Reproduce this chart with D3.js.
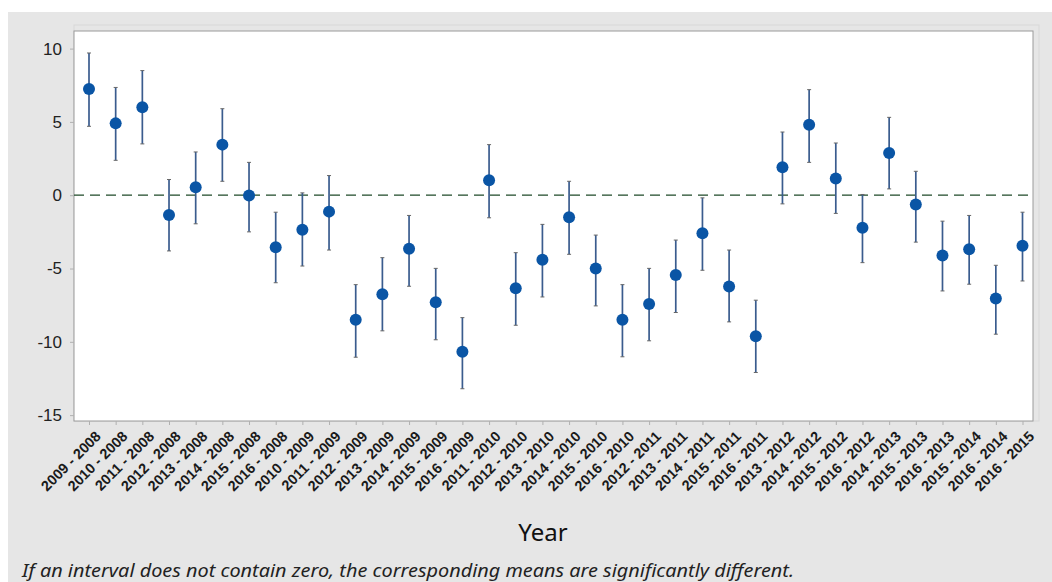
<!DOCTYPE html>
<html><head><meta charset="utf-8">
<script src="https://cdn.jsdelivr.net/npm/d3@7"></script>
<style>
body{margin:0;background:#fff;}
svg{display:block;font-family:"Noto Sans","Open Sans",sans-serif;}
</style></head>
<body><svg id="c" width="1052" height="582"></svg>
<script>
const categories = ["2009 - 2008","2010 - 2008","2011 - 2008","2012 - 2008","2013 - 2008","2014 - 2008","2015 - 2008","2016 - 2008",
"2010 - 2009","2011 - 2009","2012 - 2009","2013 - 2009","2014 - 2009","2015 - 2009","2016 - 2009",
"2011 - 2010","2012 - 2010","2013 - 2010","2014 - 2010","2015 - 2010","2016 - 2010",
"2012 - 2011","2013 - 2011","2014 - 2011","2015 - 2011","2016 - 2011",
"2013 - 2012","2014 - 2012","2015 - 2012","2016 - 2012",
"2014 - 2013","2015 - 2013","2016 - 2013",
"2015 - 2014","2016 - 2014",
"2016 - 2015"];
const means = [7.25,4.9,6.0,-1.35,0.55,3.45,-0.02,-3.55,-2.35,-1.12,-8.5,-6.75,-3.65,-7.3,-10.68,1.02,-6.35,-4.4,-1.5,-5.0,-8.5,-7.42,-5.45,-2.6,-6.22,-9.62,1.9,4.8,1.14,-2.22,2.88,-0.63,-4.12,-3.68,-7.05,-3.45];
const upper = [9.7,7.35,8.5,1.07,2.95,5.9,2.24,-1.16,0.16,1.34,-6.1,-4.26,-1.38,-4.99,-8.35,3.45,-3.92,-1.99,0.95,-2.72,-6.1,-4.99,-3.06,-0.18,-3.74,-7.16,4.31,7.2,3.56,0.05,5.31,1.63,-1.77,-1.38,-4.78,-1.16];
const lower = [4.7,2.38,3.5,-3.8,-1.95,0.95,-2.5,-5.97,-4.83,-3.74,-11.05,-9.25,-6.21,-9.86,-13.2,-1.54,-8.87,-6.94,-4.03,-7.55,-11.02,-9.93,-8.0,-5.12,-8.64,-12.09,-0.59,2.24,-1.24,-4.6,0.43,-3.2,-6.53,-6.07,-9.48,-5.85];
const yTicks = [10,5,0,-5,-10,-15];
const xTitle = "Year";
const footnote = "If an interval does not contain zero, the corresponding means are significantly different.";

const svg = d3.select("#c");
svg.append("rect").attr("x",8).attr("y",12).attr("width",1044).attr("height",570).attr("fill","#e6e6e6");
const L=74, T=31, R=1033, B=421;
svg.append("rect").attr("x",L).attr("y",T-6).attr("width",R-L+6).attr("height",B-T+6).attr("fill","none").attr("stroke","#d8d8d8").attr("stroke-width",1);
svg.append("rect").attr("x",L).attr("y",T).attr("width",R-L).attr("height",B-T).attr("fill","#fff").attr("stroke","#9a9a9a").attr("stroke-width",1);

const x = d3.scalePoint().domain(categories).range([89,1022.5]);
const y = d3.scaleLinear().domain([-15.4,11.2]).range([B,T]);

const ya = svg.append("g").attr("transform",`translate(${L},0)`)
  .call(d3.axisLeft(y).tickValues(yTicks).tickSize(4).tickPadding(8).tickFormat(d=>d));
ya.select(".domain").remove();
ya.selectAll(".tick line").attr("stroke","#b0b0b0");
ya.selectAll(".tick text").attr("font-size",17).attr("fill","#222");

const xa = svg.append("g").attr("transform",`translate(0,${B})`)
  .call(d3.axisBottom(x).tickSize(4).tickPadding(2));
xa.select(".domain").remove();
xa.selectAll(".tick line").attr("stroke","#b0b0b0");
xa.selectAll(".tick text").attr("font-size",14.5).attr("font-weight","600").attr("fill","#1a1a1a")
  .attr("text-anchor","end").attr("dy","0").attr("dx","0")
  .attr("transform","translate(8,12) rotate(-45)");

svg.append("line").attr("x1",L).attr("x2",R).attr("y1",y(0)).attr("y2",y(0))
  .attr("stroke","#1f4a28").attr("stroke-width",1.3).attr("stroke-dasharray","10,6");

const g = svg.append("g");
const idx = d3.range(categories.length);
g.selectAll("line.ci").data(idx).join("line").attr("class","ci")
  .attr("x1",i=>x(categories[i])).attr("x2",i=>x(categories[i]))
  .attr("y1",i=>y(upper[i])).attr("y2",i=>y(lower[i]))
  .attr("stroke","#3a5c8e").attr("stroke-width",1.7);
g.selectAll("line.capu").data(idx).join("line").attr("class","capu")
  .attr("x1",i=>x(categories[i])-2).attr("x2",i=>x(categories[i])+2)
  .attr("y1",i=>y(upper[i])).attr("y2",i=>y(upper[i]))
  .attr("stroke","#666").attr("stroke-width",1);
g.selectAll("line.capl").data(idx).join("line").attr("class","capl")
  .attr("x1",i=>x(categories[i])-2).attr("x2",i=>x(categories[i])+2)
  .attr("y1",i=>y(lower[i])).attr("y2",i=>y(lower[i]))
  .attr("stroke","#666").attr("stroke-width",1);
g.selectAll("circle").data(idx).join("circle")
  .attr("cx",i=>x(categories[i])).attr("cy",i=>y(means[i])).attr("r",6)
  .attr("fill","#0a55a5");

svg.append("text").attr("x",543).attr("y",541).attr("text-anchor","middle")
  .attr("font-size",24).attr("fill","#111").text(xTitle);
svg.append("text").attr("x",22).attr("y",577).attr("font-size",18.5).attr("font-style","italic")
  .attr("fill","#222").attr("textLength",772).attr("lengthAdjust","spacingAndGlyphs").text(footnote);
</script></body></html>
